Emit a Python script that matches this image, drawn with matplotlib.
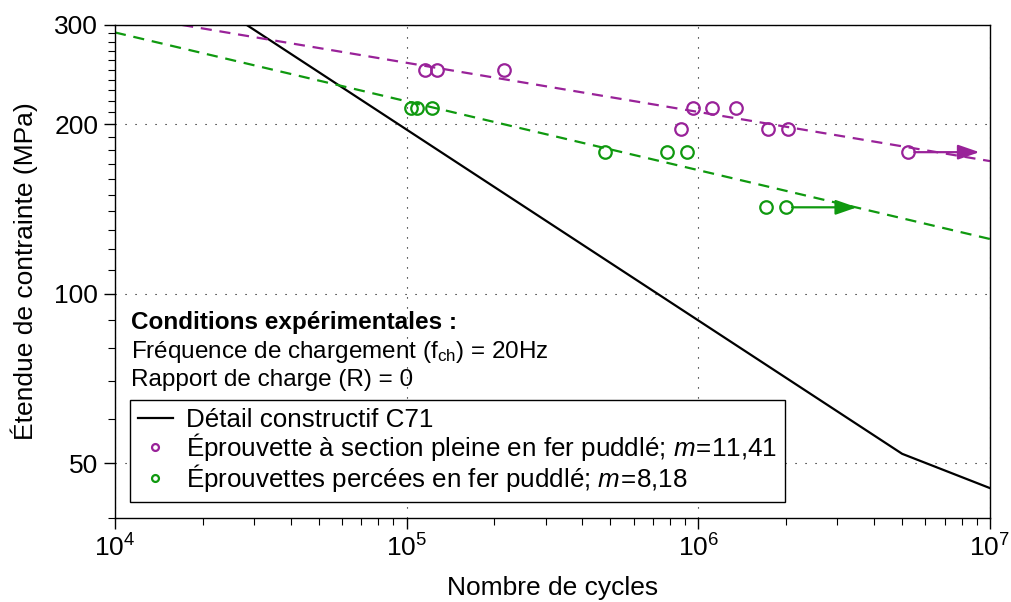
import matplotlib
matplotlib.use("Agg")
import matplotlib.pyplot as plt
from matplotlib.ticker import FixedLocator, NullFormatter, LogLocator
import numpy as np

plt.rcParams['font.family'] = ['Liberation Sans', 'DejaVu Sans']
plt.rcParams['mathtext.fontset'] = 'custom'
plt.rcParams['mathtext.rm'] = 'Liberation Sans'
plt.rcParams['mathtext.it'] = 'Liberation Sans:italic'
plt.rcParams['mathtext.bf'] = 'Liberation Sans:bold'

# --- data ---
# detail category C71 (black)
c71_n = [2.83e4, 5e6, 1e7]
c71_s = [300, 52.0, 45.2]

# solid section specimens (purple)
pleine_n = [1.155e5, 1.267e5, 2.16e5, 9.61e5, 1.113e6, 1.342e6, 8.72e5, 1.729e6, 2.033e6, 5.24e6]
pleine_s = [250, 250, 250, 214, 214, 214, 196, 196, 196, 178.4]
pleine_runout = (5.24e6, 9.2e6, 178.4)
pleine_fit_n = [1.7e4, 1e7]
pleine_fit_s = [300, 172]

# drilled specimens (green)
percee_n = [1.034e5, 1.082e5, 1.224e5, 4.78e5, 7.81e5, 9.12e5, 1.70e6, 1.997e6]
percee_s = [214, 214, 214, 178.4, 178.4, 178.4, 142.4, 142.4]
percee_runout = (1.997e6, 3.5e6, 142.4)
percee_fit_n = [1e4, 1e7]
percee_fit_s = [291, 125.1]

purple = '#992299'
green = '#0f990f'

fig = plt.figure(figsize=(10.11, 6.02), dpi=100)
ax = fig.add_axes([0.1137, 0.1395, 0.8655, 0.819])

ax.plot(c71_n, c71_s, color='black', lw=1.6, label='Détail constructif C71')
ax.plot(pleine_fit_n, pleine_fit_s, color=purple, lw=1.6, ls=(0, (5, 3.5)))
ax.plot(percee_fit_n, percee_fit_s, color=green, lw=1.6, ls=(0, (5, 3.5)))

ax.plot(pleine_n, pleine_s, 'o', mfc='none', mec=purple, mew=1.6, ms=9,
        label=r'Éprouvette à section pleine en fer puddlé; $\mathit{m}\!=\!\mathit{11{,}41}$')
ax.plot(percee_n, percee_s, 'o', mfc='none', mec=green, mew=1.6, ms=9,
        label=r'Éprouvettes percées en fer puddlé; $\mathit{m}\!=\!\mathit{8{,}18}$')

for (n0, n1, s), col in [(pleine_runout, purple), (percee_runout, green)]:
    ax.annotate('', xy=(n1, s), xytext=(n0 * 1.05, s),
                arrowprops=dict(arrowstyle='-|>,head_length=1.3,head_width=0.45',
                                color=col, lw=1.6, shrinkA=0, shrinkB=0))

ax.set_xscale('log')
ax.set_yscale('log')
ax.set_xlim(1e4, 1e7)
ax.set_ylim(40, 300)

ax.yaxis.set_major_locator(FixedLocator([50, 100, 200, 300]))
ax.set_yticklabels(['50', '100', '200', '300'])
ax.yaxis.set_minor_locator(FixedLocator(list(range(40, 100, 10)) + list(range(110, 200, 10)) + list(range(210, 300, 10))))
ax.yaxis.set_minor_formatter(NullFormatter())
ax.xaxis.set_major_locator(LogLocator(base=10, numticks=10))
ax.xaxis.set_minor_locator(LogLocator(base=10, subs=np.arange(2, 10), numticks=20))
ax.xaxis.set_minor_formatter(NullFormatter())

ax.tick_params(which='major', direction='out', length=8, width=1, labelsize=19, pad=4)
ax.tick_params(which='minor', direction='out', length=5, width=0.8)
for sp in ax.spines.values():
    sp.set_linewidth(1)

ax.grid(True, which='major', color='black', ls=(0, (1, 8)), lw=0.8)

ax.set_xlabel('Nombre de cycles', fontsize=19, labelpad=10)
ax.set_ylabel('Étendue de contrainte (MPa)', fontsize=19, labelpad=12)

ax.text(0.018, 0.397, 'Conditions expérimentales :', transform=ax.transAxes,
        fontsize=17.5, fontweight='bold', va='center')
ax.text(0.018, 0.337, r'Fréquence de chargement (f$_{\mathrm{ch}}$) = 20Hz', transform=ax.transAxes,
        fontsize=17.5, va='center')
ax.text(0.018, 0.28, 'Rapport de charge (R) = 0', transform=ax.transAxes,
        fontsize=17.5, va='center')

leg = ax.legend(loc='lower left', bbox_to_anchor=(0.017, 0.032), fontsize=18.7,
                frameon=True, fancybox=False, edgecolor='black', framealpha=1,
                handlelength=1.35, handletextpad=0.5, markerscale=0.55,
                borderpad=0.3, labelspacing=-0.03, borderaxespad=0)
leg.get_frame().set_linewidth(1)

fig.savefig('out.png', dpi=100)
